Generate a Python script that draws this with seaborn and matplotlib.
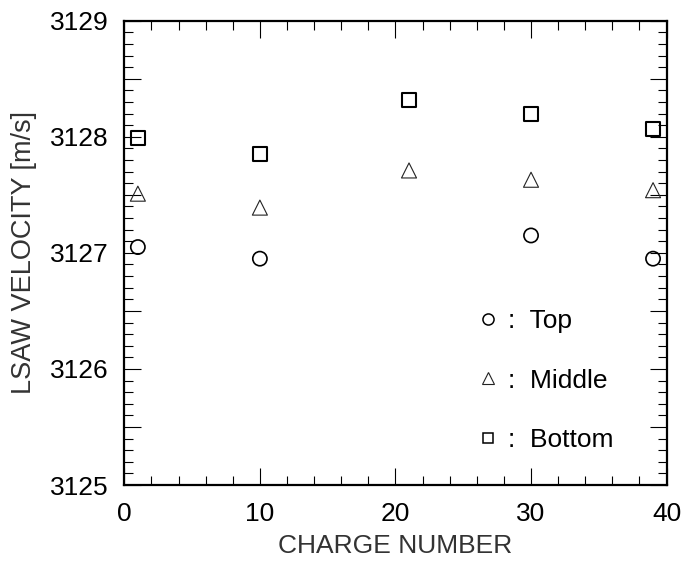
import matplotlib
matplotlib.use("Agg")
import matplotlib.pyplot as plt
import seaborn as sns
import numpy as np
from matplotlib.ticker import MultipleLocator, FuncFormatter
from matplotlib.lines import Line2D

# ---- data ----
top_x = [1, 10, 30, 39]
top_y = [3127.05, 3126.95, 3127.15, 3126.95]
mid_x = [1, 10, 21, 30, 39]
mid_y = [3127.51, 3127.39, 3127.71, 3127.63, 3127.54]
bot_x = [1, 10, 21, 30, 39]
bot_y = [3127.99, 3127.85, 3128.32, 3128.20, 3128.07]
legend_labels = [":  Top", ":  Middle", ":  Bottom"]

sns.set_style("white")
plt.rcParams['font.family'] = ['Liberation Sans', 'DejaVu Sans']

fig = plt.figure(figsize=(6.83, 5.63), dpi=100)
ax = fig.add_axes([0.182, 0.1385, 0.794, 0.8247])

sns.scatterplot(x=top_x, y=top_y, marker='o', s=105, color='none',
                edgecolor='black', linewidth=1.2, ax=ax)
sns.scatterplot(x=mid_x, y=mid_y, marker='^', s=117, color='none',
                edgecolor='#222222', linewidth=0.8, ax=ax)
sns.scatterplot(x=bot_x, y=bot_y, marker='s', s=100, color='none',
                edgecolor='black', linewidth=1.5, ax=ax)

ax.set_xlim(0, 40)
ax.set_ylim(3125, 3129)

ax.xaxis.set_major_locator(MultipleLocator(10))
ax.xaxis.set_minor_locator(MultipleLocator(2))
ax.yaxis.set_major_locator(MultipleLocator(0.5))
ax.yaxis.set_minor_locator(MultipleLocator(0.1))
ax.yaxis.set_major_formatter(FuncFormatter(
    lambda v, p: f"{int(round(v))}" if abs(v - round(v)) < 1e-6 else ""))

ax.tick_params(which='both', direction='in', top=True, right=True,
               bottom=True, left=True, colors='black', width=0.8)
ax.tick_params(which='major', length=12)
ax.tick_params(which='minor', length=6.5)
ax.tick_params(axis='x', which='major', labelsize=19, pad=12)
ax.tick_params(axis='y', which='major', labelsize=19, pad=11)

for sp in ax.spines.values():
    sp.set_visible(True)
    sp.set_color('black')
    sp.set_linewidth(1.6)

ax.set_xlabel("CHARGE NUMBER", fontsize=19, color='#333333', labelpad=6)
ax.set_ylabel("LSAW VELOCITY [m/s]", fontsize=19.5, color='#333333', labelpad=9.5)

handles = [
    Line2D([], [], marker='o', ls='none', mfc='none', mec='black', ms=8, mew=1.1),
    Line2D([], [], marker='^', ls='none', mfc='none', mec='#222222', ms=8.5, mew=0.8),
    Line2D([], [], marker='s', ls='none', mfc='none', mec='black', ms=7.5, mew=1.1),
]
ax.legend(handles, legend_labels, loc='upper left', frameon=False,
          bbox_to_anchor=(0.652, 0.379), fontsize=19, handlelength=0.8,
          handletextpad=0.33, labelspacing=1.35, borderpad=0, borderaxespad=0,
          labelcolor='black')

fig.savefig("out.png", dpi=100)
